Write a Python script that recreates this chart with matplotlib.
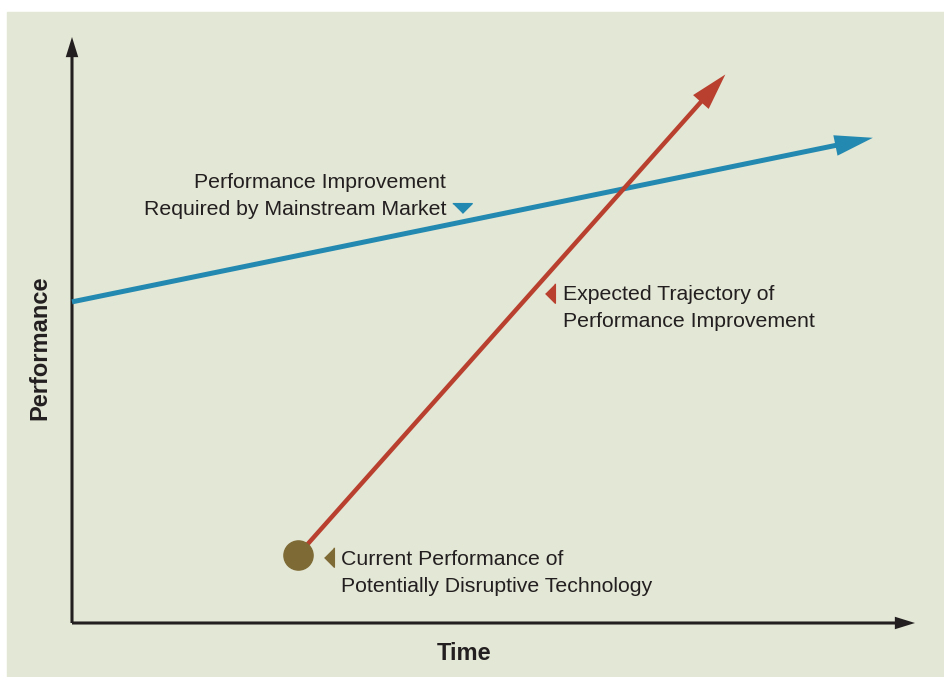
"""
Disruptive technology chart: performance trajectories over time.
"""

import matplotlib.pyplot as plt
from matplotlib.patches import FancyArrowPatch

# Schematic data (axis units 0-100)
mainstream_time = [0, 95]
mainstream_perf = [54.8, 82.8]
disruptive_time = [26.8, 77.5]
disruptive_perf = [11.6, 93.6]

mainstream_label = "Performance Improvement\nRequired by Mainstream Market"
trajectory_label = "Expected Trajectory of\nPerformance Improvement"
current_label = "Current Performance of\nPotentially Disruptive Technology"

BG = "#e3e7d5"
BLUE = "#2389b0"
RED = "#b9402f"
OLIVE = "#7d6a35"
INK = "#231f20"

plt.rcParams["font.family"] = ["Liberation Sans", "DejaVu Sans"]

fig = plt.figure(figsize=(9.45, 6.77), dpi=100)
fig.patch.set_facecolor("white")
# green panel with a thin white margin at top and left
fig.patches.append(plt.Rectangle((7 / 945, 0), 1, 1 - 12 / 677,
                                 transform=fig.transFigure, color=BG, zorder=-1))

ax = fig.add_axes([72 / 945, 54 / 677, 843 / 945, 586 / 677])
ax.set_zorder(2)
ax.set_xlim(0, 100)
ax.set_ylim(0, 100)
ax.patch.set_alpha(0)
ax.axis("off")


def arrow(start, end, style, color, **kw):
    ax.add_patch(FancyArrowPatch(start, end, arrowstyle=style, mutation_scale=10,
                                 color=color, lw=0, shrinkA=0, shrinkB=0,
                                 clip_on=False, **kw))


# axes with arrow heads
axis_style = "simple,head_length=1.45,head_width=0.9,tail_width=0.22"
arrow((0, 0), (1, 0), axis_style, INK, transform=ax.transAxes)
arrow((0, 0), (0, 1), axis_style, INK, transform=ax.transAxes)

# mainstream requirement line
arrow((mainstream_time[0], mainstream_perf[0]),
      (mainstream_time[1], mainstream_perf[1]),
      "simple,head_length=2.75,head_width=1.5,tail_width=0.36", BLUE)

# disruptive technology trajectory
arrow((disruptive_time[0], disruptive_perf[0]),
      (disruptive_time[1], disruptive_perf[1]),
      "simple,head_length=2.65,head_width=1.5,tail_width=0.32", RED)
ax.plot(disruptive_time[0], disruptive_perf[0], "o", ms=21, color=OLIVE, zorder=5)

# labels with small pointer triangles
down_tri = [(-1, 0.5), (1, 0.5), (0, -0.5)]
left_tri = [(0.5, 1), (0.5, -1), (-0.5, 0)]
label_kw = dict(va="center", fontsize=15.3, color=INK, linespacing=1.53)

ax.text(44.4, 72.8, mainstream_label, ha="right", **label_kw)
ax.plot(46.3, 70.8, marker=down_tri, ms=14, color=BLUE, clip_on=False)

ax.text(58.2, 53.7, trajectory_label, ha="left", **label_kw)
ax.plot(56.7, 56.3, marker=left_tri, ms=14, color=RED, clip_on=False)

ax.text(31.9, 8.5, current_label, ha="left", **label_kw)
ax.plot(30.5, 11.3, marker=left_tri, ms=14, color=OLIVE, clip_on=False)

fig.text(40 / 945, 1 - 348 / 677, "Performance", rotation=90, ha="center",
         va="center", fontsize=17, fontweight="bold", color=INK)
fig.text(464 / 945, 1 - 653 / 677, "Time", ha="center", va="center",
         fontsize=17, fontweight="bold", color=INK)

fig.savefig("out.png", dpi=100, facecolor=fig.get_facecolor())
